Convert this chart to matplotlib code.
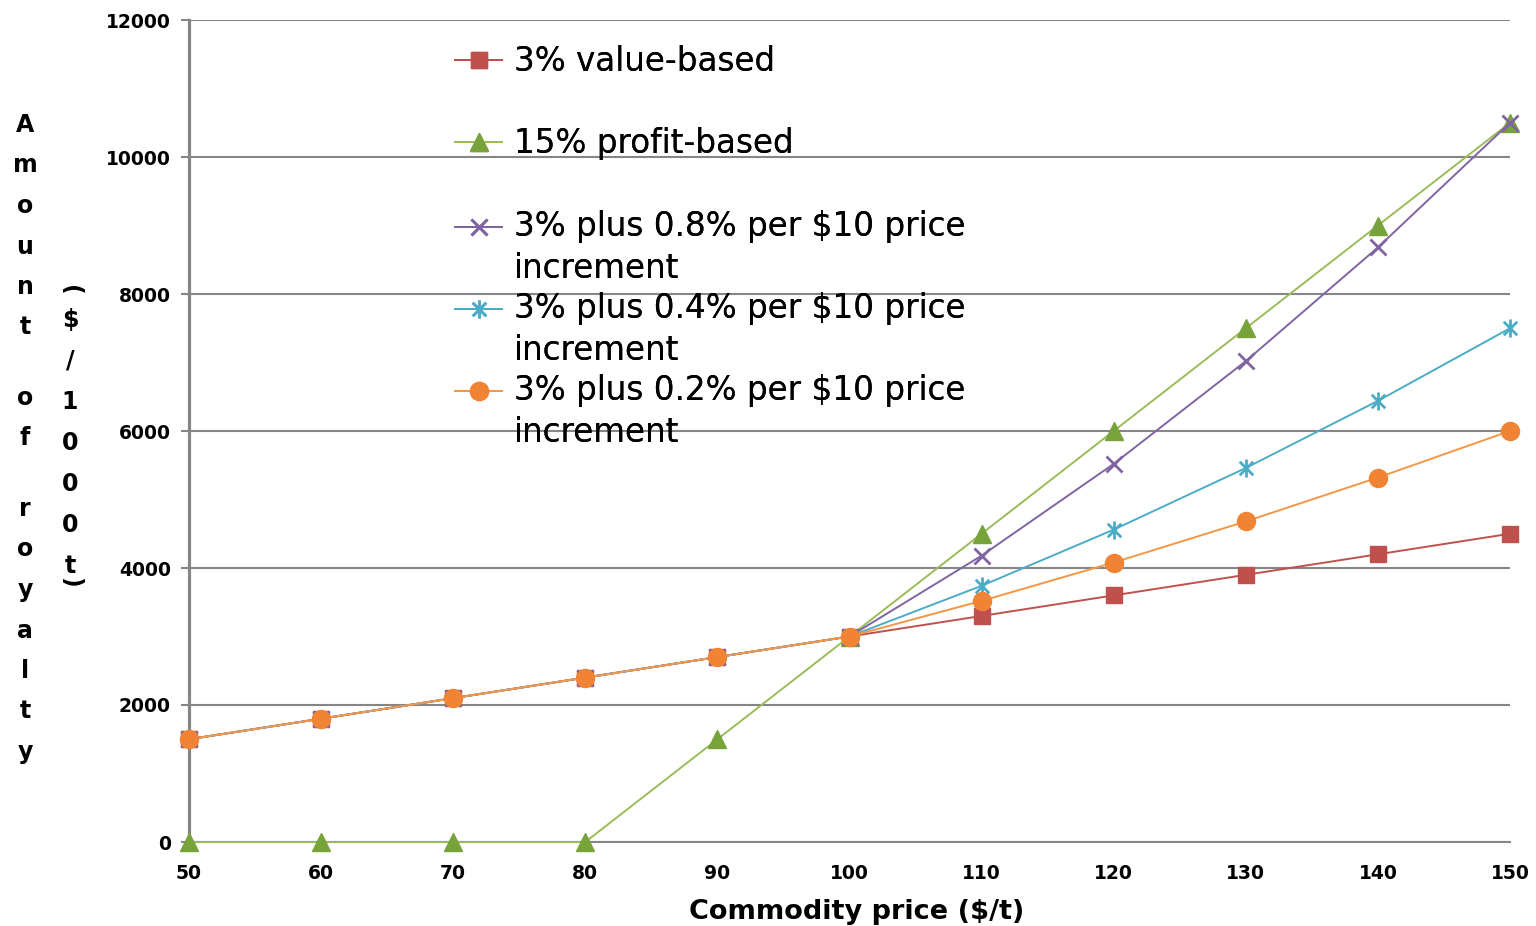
import numpy as np
import matplotlib
matplotlib.use("Agg")
import matplotlib.pyplot as plt
from matplotlib.path import Path
from matplotlib.legend_handler import HandlerLine2D

# Royalty amount ($/1000t) against commodity price ($/t)
prices = [50, 60, 70, 80, 90, 100, 110, 120, 130, 140, 150]
value_based = [1500, 1800, 2100, 2400, 2700, 3000, 3300, 3600, 3900, 4200, 4500]
profit_based = [0, 0, 0, 0, 1500, 3000, 4500, 6000, 7500, 9000, 10500]
plus_08 = [1500, 1800, 2100, 2400, 2700, 3000, 4180, 5520, 7020, 8680, 10500]
plus_04 = [1500, 1800, 2100, 2400, 2700, 3000, 3740, 4560, 5460, 6440, 7500]
plus_02 = [1500, 1800, 2100, 2400, 2700, 3000, 3520, 4080, 4680, 5320, 6000]

series_labels = ["3% value-based",
                 "15% profit-based",
                 "3% plus 0.8% per $10 price\nincrement",
                 "3% plus 0.4% per $10 price\nincrement",
                 "3% plus 0.2% per $10 price\nincrement"]
y_ticks = [0, 2000, 4000, 6000, 8000, 10000, 12000]
x_label = "Commodity price ($/t)"
y_label_1 = "Amount of royalty"
y_label_2 = "($/1000t)"

# Excel-like asterisk marker
star = Path([(0, -1), (0, 1), (-0.75, -0.75), (0.75, 0.75), (-0.75, 0.75), (0.75, -0.75)],
            [Path.MOVETO, Path.LINETO] * 3)

styles = [dict(color="#C0504D", marker="s", ms=11),
          dict(color="#9BBB59", marker="^", ms=13, mfc="#77A33A", mec="#77A33A"),
          dict(color="#8064A2", marker="x", ms=11, mew=2),
          dict(color="#4BACC6", marker=star, ms=13, mew=2, mfc="none"),
          dict(color="#F79646", marker="o", ms=13, mfc="#F08434", mec="#F08434")]

fig = plt.figure(figsize=(15.36, 9.26), dpi=100)
ax = fig.add_axes([189 / 1536, 1 - 842 / 926, 1321 / 1536, 822 / 926])

data = [value_based, profit_based, plus_08, plus_04, plus_02]
lines = []
for vals, st in zip(data, styles):
    ln, = ax.plot(prices, vals, lw=1.4, clip_on=False, zorder=3, **st)
    lines.append(ln)

ax.set_xlim(50, 150)
ax.set_ylim(0, 12000)
ax.set_xticks(prices)
ax.set_yticks(y_ticks)
ax.yaxis.grid(True, color="#868686", lw=1.5)
ax.set_axisbelow(True)
for s in ["top", "right"]:
    ax.spines[s].set_visible(False)
ax.spines["left"].set_color("#868686")
ax.spines["left"].set_linewidth(2.3)
ax.spines["bottom"].set_color("#868686")
ax.spines["bottom"].set_linewidth(1.5)
ax.tick_params(axis="y", length=6, width=1.5, color="#868686", pad=7)
ax.tick_params(axis="x", length=0, pad=16)
for lab in ax.get_xticklabels() + ax.get_yticklabels():
    lab.set_fontsize(13.5)
    lab.set_fontweight("bold")

ax.set_xlabel(x_label, fontsize=19.5, fontweight="bold")
ax.xaxis.set_label_coords((857 - 189) / 1321, -0.069)


# legend handle sits on the first line of a wrapped label
class FirstLineHandler(HandlerLine2D):
    def __init__(self, shift=0, **kw):
        super().__init__(**kw)
        self.shift = shift

    def create_artists(self, legend, orig_handle, xdescent, ydescent, width, height, fontsize, trans):
        arts = super().create_artists(legend, orig_handle, xdescent, ydescent, width, height, fontsize, trans)
        for a in arts:
            a.set_ydata(np.asarray(a.get_ydata(), dtype=float) + self.shift)
        return arts


leg_tops = [45, 127, 210, 292, 374]
for ln, lab, top in zip(lines, series_labels, leg_tops):
    shift = 16 if "\n" in lab else 0
    lg = fig.legend([ln], [lab], loc="upper left", bbox_to_anchor=(455 / 1536, 1 - top / 926),
                    frameon=False, borderpad=0, borderaxespad=0, handlelength=1.45,
                    handletextpad=0.35, fontsize=23.5,
                    handler_map={ln: FirstLineHandler(shift=shift, numpoints=1)})
    for t in lg.get_texts():
        t.set_linespacing(1.35)
    fig.add_artist(lg)

# stacked y-axis label characters
y = 125
for ch in y_label_1:
    if ch == " ":
        y += 30
        continue
    fig.text(25 / 1536, 1 - y / 926, ch, ha="center", va="center", fontsize=17, fontweight="bold")
    y += 40.5

y = 290
prev = None
for ch in y_label_2:
    if prev is not None:
        if prev == "(":
            y += 30
        elif ch == ")":
            y += 16
        else:
            y += 41
    rot = -90 if ch in "()" else 0
    fig.text(70 / 1536, 1 - y / 926, ch, ha="center", va="center", fontsize=17,
             fontweight="bold", rotation=rot)
    prev = ch

fig.savefig("out.png", dpi=100)
